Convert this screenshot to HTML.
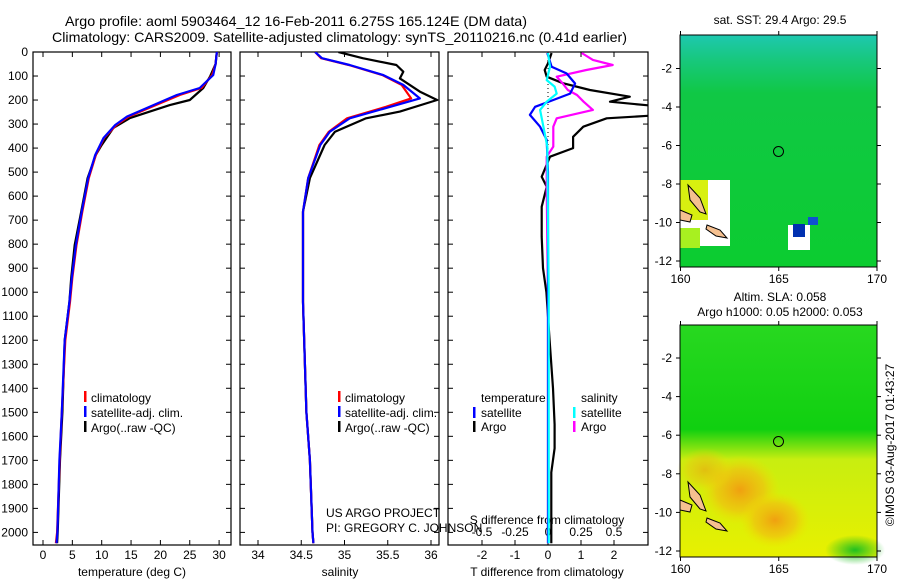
<!DOCTYPE html>
<html><head><meta charset="utf-8">
<style>
html,body{margin:0;padding:0;background:#fff;}
svg{display:block;font-family:"Liberation Sans",sans-serif;}
text{font-size:12px;fill:#000;}
</style></head>
<body>
<svg id="chart" width="900" height="580" viewBox="0 0 900 580" xmlns="http://www.w3.org/2000/svg">
<defs>
<clipPath id="c1"><rect x="33" y="52" width="198" height="493"/></clipPath>
<clipPath id="c2"><rect x="240" y="52" width="199" height="493"/></clipPath>
<clipPath id="c3"><rect x="448" y="52" width="200" height="493"/></clipPath>
<linearGradient id="g1" x1="0" y1="0" x2="0" y2="1">
<stop offset="0" stop-color="#1ec8b0"/><stop offset="0.1" stop-color="#18c880"/><stop offset="0.25" stop-color="#10c845"/><stop offset="1" stop-color="#0ccc30"/></linearGradient>
<linearGradient id="g2" x1="0" y1="0" x2="0" y2="1">
<stop offset="0" stop-color="#28d820"/><stop offset="0.45" stop-color="#10d010"/><stop offset="0.58" stop-color="#c8ee10"/><stop offset="1" stop-color="#e8f000"/></linearGradient>
<radialGradient id="r1"><stop offset="0" stop-color="#f0a010"/><stop offset="0.6" stop-color="#f0c010" stop-opacity="0.7"/><stop offset="1" stop-color="#f0e000" stop-opacity="0"/></radialGradient>
<radialGradient id="r2"><stop offset="0" stop-color="#20c020"/><stop offset="1" stop-color="#20c020" stop-opacity="0"/></radialGradient>
</defs>

<text x="65" y="26" style="font-size:14px" textLength="462" lengthAdjust="spacingAndGlyphs">Argo profile: aoml 5903464_12 16-Feb-2011 6.275S 165.124E (DM data)</text>
<text x="52" y="42" style="font-size:14px" textLength="575" lengthAdjust="spacingAndGlyphs">Climatology: CARS2009. Satellite-adjusted climatology: synTS_20110216.nc (0.41d earlier)</text>

<g id="p1"></g>
<g id="p2"></g>
<g id="p3"></g>

<g>
<rect x="84" y="391" width="2.5" height="11" fill="#f00"/><text x="91" y="402">climatology</text>
<rect x="84" y="406" width="2.5" height="11" fill="#00f"/><text x="91" y="417">satellite-adj. clim.</text>
<rect x="84" y="421" width="2.5" height="11" fill="#000"/><text x="91" y="432">Argo(..raw -QC)</text>
</g>
<g>
<rect x="338" y="391" width="2.5" height="11" fill="#f00"/><text x="345" y="402">climatology</text>
<rect x="338" y="406" width="2.5" height="11" fill="#00f"/><text x="345" y="417">satellite-adj. clim.</text>
<rect x="338" y="421" width="2.5" height="11" fill="#000"/><text x="345" y="432">Argo(..raw -QC)</text>
</g>
<text x="326" y="517">US ARGO PROJECT</text>
<text x="326" y="532">PI: GREGORY C. JOHNSON</text>
<g>
<text x="481" y="402">temperature</text><text x="581" y="402">salinity</text>
<rect x="473" y="407" width="2.5" height="11" fill="#00f"/><text x="481" y="417">satellite</text>
<rect x="473" y="421" width="2.5" height="11" fill="#000"/><text x="481" y="431">Argo</text>
<rect x="573" y="407" width="2.5" height="11" fill="#0ff"/><text x="581" y="417">satellite</text>
<rect x="573" y="421" width="2.5" height="11" fill="#f0f"/><text x="581" y="431">Argo</text>
</g>

<g id="map1">
<text x="780" y="24" text-anchor="middle">sat. SST: 29.4  Argo: 29.5</text>
<rect x="680" y="35" width="197" height="232" fill="url(#g1)"/>
<rect x="680" y="180" width="50" height="66" fill="#fff"/>
<rect x="680" y="180" width="28" height="40" fill="#d8f010"/>
<rect x="680" y="228" width="20" height="20" fill="#a8f020"/>
<rect x="788" y="225" width="22" height="25" fill="#fff"/>
<rect x="793" y="224" width="12" height="13" fill="#0030b0"/>
<rect x="808" y="217" width="10" height="8" fill="#1050d0"/>
<path d="M688 185 L700 198 L706 214 L700 212 L690 200 Z" fill="#f5c090" stroke="#000"/>
<path d="M680 210 L692 215 L690 222 L680 220 Z" fill="#f5c090" stroke="#000"/>
<path d="M707 225 L720 230 L727 238 L716 236 L706 229 Z" fill="#f5c090" stroke="#000"/>
<circle cx="778.5" cy="151.5" r="5" fill="none" stroke="#000"/>
</g>
<g id="map2">
<text x="780" y="301" text-anchor="middle">Altim. SLA: 0.058</text>
<text x="780" y="316" text-anchor="middle">Argo h1000: 0.05 h2000: 0.053</text>
<rect x="680" y="325" width="197" height="232" fill="url(#g2)"/>
<ellipse cx="740" cy="490" rx="40" ry="35" fill="url(#r1)"/>
<ellipse cx="775" cy="520" rx="35" ry="28" fill="url(#r1)"/>
<ellipse cx="705" cy="470" rx="28" ry="22" fill="url(#r1)" opacity="0.6"/>
<ellipse cx="855" cy="550" rx="30" ry="15" fill="url(#r2)"/>
<path d="M688 482 L700 495 L706 511 L700 509 L690 497 Z" fill="#f5c090" stroke="#000"/>
<path d="M680 500 L692 505 L690 512 L680 510 Z" fill="#f5c090" stroke="#000"/>
<path d="M707 518 L720 523 L727 531 L716 529 L706 522 Z" fill="#f5c090" stroke="#000"/>
<circle cx="778.5" cy="441.5" r="5" fill="none" stroke="#000"/>
</g>
<text transform="translate(894,445) rotate(-90)" text-anchor="middle">©IMOS 03-Aug-2017 01:43:27</text>
</svg>
<script>
const depthsTClim = [0,50,96,150,179,221,269,304,358,429,525,665,803,941,1041,1200,1500,1700,2000,2045];
const tempSat     = [29.6,29.4,29.0,26.7,22.8,18.8,14.3,12.3,10.3,8.9,7.7,6.6,5.6,4.9,4.5,3.7,3.2,2.8,2.45,2.3];
const tempClim    = [29.6,29.4,28.8,27.0,23.3,19.2,14.6,12.5,10.4,9.0,7.8,6.7,5.7,5.0,4.6,3.8,3.2,2.85,2.4,2.2];
const depthsArgo  = [0,50,100,150,200,221,248,275,316,387,429,525,665,803,941,1041,1200,1500,1700,2000,2045];
const tempArgo    = [29.6,29.4,28.5,27.3,25.0,21.6,18.2,14.8,12.0,10.0,9.0,7.6,6.5,5.4,4.8,4.5,3.7,3.3,2.9,2.5,2.4];

const depthsS  = [0,26,54,96,137,193,228,276,332,387,525,665,1041,1500,1700,2000,2045];
const salSat   = [34.66,34.74,35.06,35.45,35.68,35.87,35.53,35.06,34.83,34.72,34.58,34.52,34.52,34.56,34.60,34.63,34.64];
const salClim  = [34.66,34.73,35.05,35.44,35.66,35.77,35.48,35.03,34.82,34.71,34.58,34.52,34.52,34.56,34.60,34.63,34.64];
const depthsSA = [0,26,54,82,110,165,200,248,276,332,387,525,665,1041,1500,1700,2000,2045];
const salArgo  = [34.93,35.21,35.60,35.68,35.64,35.87,36.07,35.64,35.25,34.89,34.77,34.60,34.52,34.52,34.56,34.60,34.63,34.64];

const depthsDT   = [4,61,89,131,173,200,228,262,311,366,500,1000,2045];
const tDiffSat   = [-0.02,0.11,0.56,0.82,0.67,0.16,-0.39,-0.55,-0.24,-0.04,0,0,0];
const depthsDTA  = [4,47,75,103,130,158,186,207,228,262,276,311,353,400,436,519,561,644,769,900,1000,1200,1400,1550,1650,1750,2000,2045];
const tDiffArgo  = [0.11,0,-0.1,-0.04,0.45,1.27,2.48,1.88,3.5,3.5,1.78,1.07,0.76,0.76,0.06,-0.19,-0.04,-0.19,-0.19,-0.15,-0.05,0.05,0.15,0.2,0.2,0.1,0.1,0.1];
const depthsDS   = [4,61,117,144,173,207,241,311,394,1000,2045];
const sDiffSat   = [0,0.015,-0.01,0.05,0.066,-0.01,-0.06,-0.035,-0.005,0.005,0.005];
const depthsDSA  = [4,33,54,75,103,130,158,179,207,241,276,311,394,436,575,1000,2045];
const sDiffArgo  = [0.255,0.34,0.49,0.29,0.066,0.11,0.15,0.22,0.27,0.34,0.066,0.04,0.04,-0.01,-0.01,0,0];

const depthTicks = [0,100,200,300,400,500,600,700,800,900,1000,1100,1200,1300,1400,1500,1600,1700,1800,1900,2000];
const tempTicks = [0,5,10,15,20,25,30];
const salTicks = [34,34.5,35,35.5,36];
const salTickLabels = ["34","34.5","35","35.5","36"];
const tdTicks = [-2,-1,0,1,2];
const sdTicks = [-0.5,-0.25,0,0.25,0.5];
const sdTickLabels = ["-0.5","-0.25","0","0.25","0.5"];
const latTicks = [-2,-4,-6,-8,-10,-12];
const lonTicks = [160,165,170];

const yD = d => 52 + d*0.2402;
const xT = t => 43 + t*5.87;
const xS = s => 258 + (s-34)*86.5;
const xTD = t => 548 + t*33;
const xSD = s => 548 + s*132;
const lon = l => 680.5 + (l-160)*19.65;
const lat1 = l => 68.5 + (-2-l)*19.25;
const lat2 = l => 358 + (-2-l)*19.3;

const NS='http://www.w3.org/2000/svg';
function mk(tag, attrs, parent){const e=document.createElementNS(NS,tag);for(const k in attrs)e.setAttribute(k,attrs[k]);parent.appendChild(e);return e;}
function stepPath(xs, ds, xf){
  let s='';
  for(let i=0;i<xs.length;i++){s+=(i?'L':'M')+xf(xs[i]).toFixed(1)+' '+yD(ds[i]).toFixed(1);}
  return s;
}
function line(g, xs, ds, xf, color, name, clip){
  const p=mk('path',{d:stepPath(xs,ds,xf),fill:'none',stroke:color,'stroke-width':2.2,'stroke-linejoin':'round','clip-path':'url(#'+clip+')'},g);
  
  
}
function frame(g, x0, x1, name){
  const r=mk('rect',{x:x0,y:52,width:x1-x0,height:493,fill:'none',stroke:'#000','stroke-width':1.2},g);
  
  
  depthTicks.forEach(d=>{
    mk('line',{x1:x0,x2:x0+5,y1:yD(d),y2:yD(d),stroke:'#000'},g);
    mk('line',{x1:x1-5,x2:x1,y1:yD(d),y2:yD(d),stroke:'#000'},g);
  });
}
function xticks(g, ticks, labels, xf, ylab){
  ticks.forEach((t,i)=>{
    const x=xf(t);
    mk('line',{x1:x,x2:x,y1:52,y2:57,stroke:'#000'},g);
    mk('line',{x1:x,x2:x,y1:540,y2:545,stroke:'#000'},g);
    const tx=mk('text',{x:x,y:ylab,'text-anchor':'middle'},g);
    tx.textContent=labels[i];
    
    
  });
}

const p1=document.getElementById('p1');
frame(p1,33,231,'temperature-axes');
depthTicks.forEach(d=>{const t=mk('text',{x:28,y:yD(d)+4,'text-anchor':'end'},p1);t.textContent=d;
  
  });
xticks(p1,tempTicks,tempTicks.map(String),xT,559);
let lab=mk('text',{x:132,y:576,'text-anchor':'middle'},p1);lab.textContent='temperature (deg C)';


line(p1,tempArgo,depthsArgo,xT,'#000','temp-argo-line','c1');
line(p1,tempClim,depthsTClim,xT,'#f00','temp-climatology-line','c1');
line(p1,tempSat,depthsTClim,xT,'#00f','temp-satellite-line','c1');

const p2=document.getElementById('p2');
frame(p2,240,439,'salinity-axes');
xticks(p2,salTicks,salTickLabels,xS,559);
lab=mk('text',{x:340,y:576,'text-anchor':'middle'},p2);lab.textContent='salinity';


line(p2,salArgo,depthsSA,xS,'#000','sal-argo-line','c2');
line(p2,salClim,depthsS,xS,'#f00','sal-climatology-line','c2');
line(p2,salSat,depthsS,xS,'#00f','sal-satellite-line','c2');

const p3=document.getElementById('p3');
frame(p3,448,648,'difference-axes');
xticks(p3,tdTicks,tdTicks.map(String),xTD,559);
sdTicks.forEach((t,i)=>{const tx=mk('text',{x:xSD(t),y:536,'text-anchor':'middle'},p3);tx.textContent=sdTickLabels[i];
  
  });
lab=mk('text',{x:547,y:524,'text-anchor':'middle'},p3);lab.textContent='S difference from climatology';


lab=mk('text',{x:547,y:576,'text-anchor':'middle'},p3);lab.textContent='T difference from climatology';


mk('line',{x1:548,x2:548,y1:52,y2:545,stroke:'#000','stroke-dasharray':'1 3'},p3);
line(p3,tDiffArgo,depthsDTA,xTD,'#000','tdiff-argo-line','c3');
line(p3,sDiffArgo,depthsDSA,xSD,'#f0f','sdiff-argo-line','c3');
line(p3,tDiffSat,depthsDT,xTD,'#00f','tdiff-satellite-line','c3');
line(p3,sDiffSat,depthsDS,xSD,'#0ff','sdiff-satellite-line','c3');

function mapAxes(id, top, bottom, latf){
  const g=document.getElementById(id);
  mk('rect',{x:680,y:top,width:197,height:bottom-top,fill:'none',stroke:'#000'},g);
  latTicks.forEach(l=>{const y=latf(l);
    mk('line',{x1:676,x2:680,y1:y,y2:y,stroke:'#000'},g);
    mk('line',{x1:877,x2:881,y1:y,y2:y,stroke:'#000'},g);
    const t=mk('text',{x:672,y:y+4,'text-anchor':'end'},g);t.textContent=l;
    
    });
  lonTicks.forEach(l=>{const x=lon(l);
    mk('line',{x1:x,x2:x,y1:top-4,y2:top,stroke:'#000'},g);
    mk('line',{x1:x,x2:x,y1:bottom,y2:bottom+4,stroke:'#000'},g);
    const t=mk('text',{x:x,y:bottom+16,'text-anchor':'middle'},g);t.textContent=l;
    
    });
}
mapAxes('map1',35,267,lat1);
mapAxes('map2',325,557,lat2);
</script>
</body></html>
